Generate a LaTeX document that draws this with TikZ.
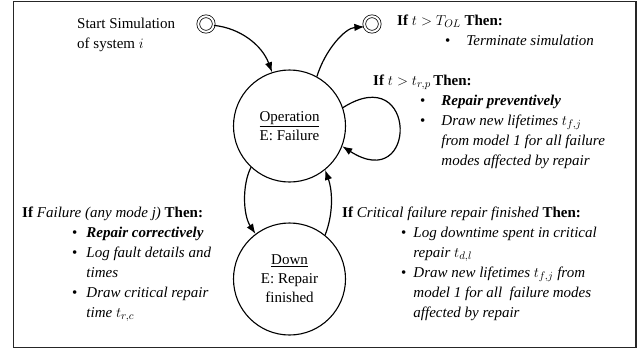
\documentclass[tikz,border=0pt]{standalone}
\usepackage{fontspec}
\setmainfont{Liberation Serif}
\usetikzlibrary{arrows.meta}

% bullet list: gap between bullet and text, then the rows
\newcommand{\bulletlist}[2]{\begin{tabular}[t]{@{}l@{\hspace{#1}}l@{}}#2\end{tabular}}

\begin{document}
\begin{tikzpicture}[x=1pt,y=-1pt]
\tikzset{
  statenode/.style={circle, draw, line width=1.1pt, minimum size=112pt,
    inner sep=0pt, align=center, font=\fontsize{15}{19}\selectfont},
  termnode/.style={circle, draw, double, double distance=2pt,
    line width=0.75pt, minimum size=15.5pt, inner sep=0pt},
  txt/.style={anchor=base west, inner sep=0pt, font=\fontsize{15}{20}\selectfont},
  flow/.style={-{Latex[length=10pt,width=7.5pt]}, line width=1.2pt}
}
\useasboundingbox (0,0) rectangle (644,354);
% frame
\draw[line width=1.2pt, black!85] (13.5,1.5) rectangle (636,347.5);

% states
\node[statenode] (op) at (289.5,126) {\underline{Operation}\\E: Failure};
\node[statenode] (down) at (289.5,279) {\underline{Down}\\E: Repair\\finished};
\node[termnode] (start) at (206,24) {};
\node[termnode] (stop) at (372,24) {};

% labels
\node[txt] (starttext) at (77,28) {\begin{tabular}[t]{@{}l@{}}Start Simulation\\of system $i$\end{tabular}};

\node[txt] (endif) at (397,25) {\textbf{If} $t > T_{OL}$ \textbf{Then:}};
\node[txt] (endlist) at (445,45) {\bulletlist{16pt}{\textbullet & \textit{Terminate simulation}}};

\node[txt] (previf) at (373,85) {\textbf{If} $t > t_{r,p}$\,\textbf{Then:}};
\node[txt] (prevlist) at (420,105) {\bulletlist{16pt}{%
  \textbullet & \textbf{\textit{Repair preventively}}\\
  \textbullet & \textit{Draw new lifetimes} $t_{f,j}$\\
              & \textit{from model 1 for all failure}\\
              & \textit{modes affected by repair}}};

\node[txt] (failif) at (22,217) {\textbf{If} \textit{Failure (any mode j)} \textbf{Then:}};
\node[txt] (faillist) at (72,237) {\bulletlist{9pt}{%
  \textbullet & \textbf{\textit{Repair correctively}}\\
  \textbullet & \textit{Log fault details and}\\
              & \textit{times}\\
  \textbullet & \textit{Draw critical repair}\\
              & \textit{time} $t_{r,c}$}};

\node[txt] (repif) at (342,217) {\textbf{If} \textit{Critical failure repair finished} \textbf{Then:}};
\node[txt] (replist) at (401,237) {\bulletlist{7pt}{%
  \textbullet & \textit{Log downtime spent in critical}\\
              & \textit{repair} $t_{d,l}$\\
  \textbullet & \textit{Draw new lifetimes} $t_{f,j}$ \textit{from}\\
              & \textit{model 1 for all\ \ failure modes}\\
              & \textit{affected by repair}}};

% transitions
\draw[flow] (start.-10) .. controls (240,28) and (262,45) .. (op.108);
\draw[flow] (op.61) .. controls (325,50) and (345,28) .. (stop.200);
\draw[flow] (op.19) .. controls (418,60) and (418,195) .. (op.-21);
\draw[flow] (op.227) .. controls (242,185) and (243,215) .. (down.127);
\draw[flow] (down.51) .. controls (333,215) and (333,192) .. (op.-51);

\end{tikzpicture}
\end{document}
